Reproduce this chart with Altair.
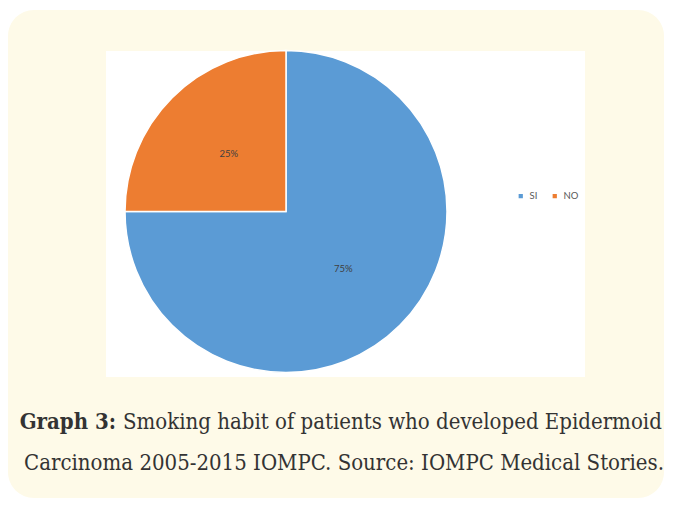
import altair as alt
import pandas as pd

# ---- data ----
categories = ["SI", "NO"]
values = [75, 25]
labels = ["75%", "25%"]
colors = ["#5B9BD5", "#ED7D31"]
caption_bold = "Graph 3:"
caption_line1 = "Smoking habit of patients who developed Epidermoid"
caption_line2 = "Carcinoma 2005-2015 IOMPC. Source: IOMPC Medical Stories."

df = pd.DataFrame({
    "category": categories,
    "value": values,
    "label": labels,
    "order": list(range(len(categories))),
})

W, H = 656, 490
CX, CY, R = 278, 203.5, 161

one = pd.DataFrame({"a": [0]})

cream = alt.Chart(one).mark_rect(color="#FEFAE8", cornerRadius=26).encode(
    x=alt.value(0), x2=alt.value(W), y=alt.value(2), y2=alt.value(H)
)
white = alt.Chart(one).mark_rect(color="#FFFFFF").encode(
    x=alt.value(98), x2=alt.value(577), y=alt.value(43), y2=alt.value(369)
)

base = alt.Chart(df).encode(
    theta=alt.Theta("value:Q", stack=True),
    order=alt.Order("order:Q"),
)

arc = base.mark_arc(outerRadius=R, stroke="white", strokeWidth=1.5).encode(
    x=alt.value(CX),
    y=alt.value(CY),
    color=alt.Color(
        "category:N",
        scale=alt.Scale(domain=categories, range=colors),
        sort=categories,
        legend=alt.Legend(
            title=None,
            orient="none",
            legendX=508,
            legendY=183,
            direction="horizontal",
            symbolType="square",
            symbolSize=18,
            symbolStrokeWidth=0,
            labelFontSize=9.5,
            labelFont="Lato",
            labelColor="#595959",
            labelOffset=4,
            columnPadding=12,
            padding=0,
        ),
    ),
)

pct = base.mark_text(radius=81, fontSize=9.5, font="Lato", color="#404040").encode(
    x=alt.value(CX),
    y=alt.value(CY),
    text="label:N",
)

cap_font = "DejaVu Serif Condensed"
cap_size = 22
bold1 = alt.Chart(one).mark_text(
    text=caption_bold, font=cap_font, fontSize=cap_size, fontWeight="bold",
    color="#333333", align="right", baseline="alphabetic"
).encode(x=alt.value(108), y=alt.value(421))
reg1 = alt.Chart(one).mark_text(
    text=caption_line1, font=cap_font, fontSize=cap_size,
    color="#333333", align="left", baseline="alphabetic"
).encode(x=alt.value(115), y=alt.value(421))
reg2 = alt.Chart(one).mark_text(
    text=caption_line2, font=cap_font, fontSize=cap_size,
    color="#333333", align="center", baseline="alphabetic"
).encode(x=alt.value(336), y=alt.value(462))

chart = alt.layer(cream, white, arc, pct, bold1, reg1, reg2).properties(
    width=W, height=H, autosize=alt.AutoSizeParams(type="none"), padding=0,
    background="white",
).configure_view(stroke=None)

chart.save("out.html", embed_options={"renderer": "svg", "actions": False})
